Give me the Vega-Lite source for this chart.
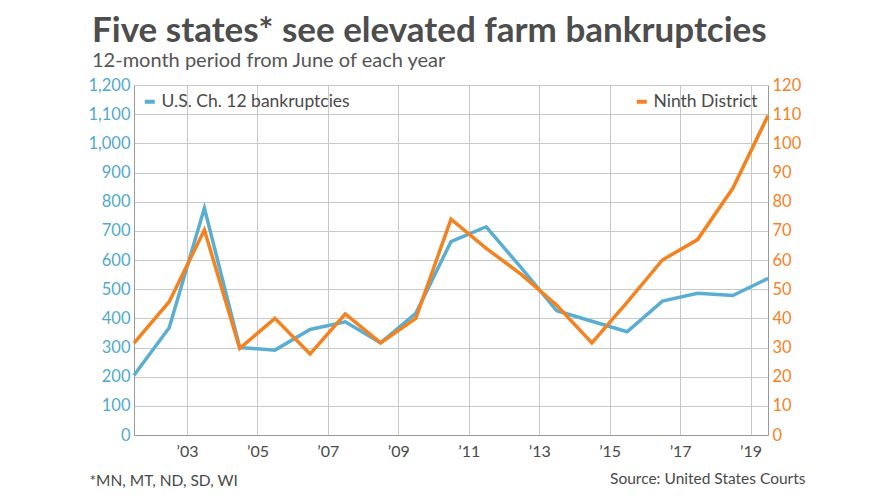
{
  "$schema": "https://vega.github.io/schema/vega-lite/v6.json",
  "width": 634,
  "height": 350,
  "autosize": {"type": "none"},
  "padding": {"left": 134, "top": 85, "right": 122, "bottom": 66},
  "background": "white",
  "config": {"font": "Lato", "view": {"stroke": null}},
  "title": {
    "text": "Five states* see elevated farm bankruptcies",
    "subtitle": "12-month period from June of each year",
    "anchor": "start",
    "frame": "group",
    "dx": -42,
    "offset": 6,
    "font": "Lato",
    "fontSize": 35,
    "fontWeight": "bold",
    "color": "#4d4d4d",
    "subtitleFont": "Lato",
    "subtitleFontSize": 20,
    "subtitleColor": "#555555",
    "subtitlePadding": 2
  },
  "data": {
    "values": [
      {"period": "2001-07-01", "us_ch12": 205, "ninth": 31.5},
      {"period": "2002-07-01", "us_ch12": 368, "ninth": 45.7},
      {"period": "2003-07-01", "us_ch12": 778, "ninth": 70.3},
      {"period": "2004-07-01", "us_ch12": 300, "ninth": 29.7},
      {"period": "2005-07-01", "us_ch12": 291, "ninth": 40},
      {"period": "2006-07-01", "us_ch12": 362, "ninth": 27.8},
      {"period": "2007-07-01", "us_ch12": 388, "ninth": 41.5},
      {"period": "2008-07-01", "us_ch12": 316, "ninth": 31.6},
      {"period": "2009-07-01", "us_ch12": 417, "ninth": 40},
      {"period": "2010-07-01", "us_ch12": 663, "ninth": 74},
      {"period": "2011-07-01", "us_ch12": 714, "ninth": 64},
      {"period": "2012-07-01", "us_ch12": 572, "ninth": 55},
      {"period": "2013-07-01", "us_ch12": 426, "ninth": 44.5},
      {"period": "2014-07-01", "us_ch12": 390, "ninth": 31.6},
      {"period": "2015-07-01", "us_ch12": 354, "ninth": 45.5},
      {"period": "2016-07-01", "us_ch12": 459, "ninth": 60},
      {"period": "2017-07-01", "us_ch12": 486, "ninth": 67},
      {"period": "2018-07-01", "us_ch12": 478, "ninth": 84.6},
      {"period": "2019-07-01", "us_ch12": 537, "ninth": 109.5}
    ]
  },
  "encoding": {
    "x": {
      "field": "period",
      "type": "temporal",
      "scale": {"domain": ["2001-07-01", "2019-07-01"]},
      "axis": {
        "values": [{"year": 2003}, {"year": 2005}, {"year": 2007}, {"year": 2009}, {"year": 2011}, {"year": 2013}, {"year": 2015}, {"year": 2017}, {"year": 2019}],
        "format": "’%y",
        "labelFont": "Lato",
        "labelFontSize": 16,
        "labelColor": "#4a4a4a",
        "labelPadding": 8,
        "ticks": false,
        "domain": true,
        "domainColor": "#9a9a9a",
        "grid": true,
        "gridColor": "#c8c8c8",
        "title": "*MN, MT, ND, SD, WI",
        "titleFont": "Lato",
        "titleFontSize": 15.5,
        "titleFontWeight": "normal",
        "titleColor": "#4a4a4a",
        "titleAlign": "left",
        "titleAnchor": "start",
        "titleBaseline": "alphabetic",
        "titleX": -45,
        "titleY": 50
      }
    }
  },
  "layer": [
    {
      "mark": {"type": "line", "strokeWidth": 3.5, "strokeJoin": "miter"},
      "encoding": {
        "y": {
          "field": "us_ch12",
          "type": "quantitative",
          "scale": {"domain": [0, 1200]},
          "axis": {
            "values": [0, 100, 200, 300, 400, 500, 600, 700, 800, 900, 1000, 1100, 1200],
            "format": ",.0f",
            "labelFont": "Lato",
            "labelFontSize": 16.5,
            "labelColor": "#4fa9d0",
            "labelPadding": 4,
            "ticks": false,
            "domainColor": "#9a9a9a",
            "grid": true,
            "gridColor": "#c8c8c8",
            "title": null
          }
        },
        "color": {
          "datum": "U.S. Ch. 12 bankruptcies",
          "type": "nominal",
          "scale": {"range": ["#5aaed2"]},
          "legend": {
            "orient": "none",
            "legendX": 7,
            "legendY": 8,
            "title": null,
            "padding": 0,
            "symbolType": "stroke",
            "symbolStrokeWidth": 4,
            "symbolSize": 100,
            "labelOffset": 3,
            "labelLimit": 400,
            "labelFont": "Lato",
            "labelFontSize": 17.5,
            "labelColor": "#4a4a4a"
          }
        }
      }
    },
    {
      "mark": {"type": "line", "strokeWidth": 3.5, "strokeJoin": "miter"},
      "encoding": {
        "y": {
          "field": "ninth",
          "type": "quantitative",
          "scale": {"domain": [0, 120]},
          "axis": {
            "orient": "right",
            "values": [0, 10, 20, 30, 40, 50, 60, 70, 80, 90, 100, 110, 120],
            "labelFont": "Lato",
            "labelFontSize": 16.5,
            "labelColor": "#f5821f",
            "labelPadding": 4,
            "ticks": false,
            "domainColor": "#9a9a9a",
            "grid": false,
            "title": "Source: United States Courts",
            "titleFont": "Lato",
            "titleFontSize": 15.5,
            "titleFontWeight": "normal",
            "titleColor": "#4a4a4a",
            "titleAngle": 0,
            "titleAlign": "right",
            "titleBaseline": "alphabetic",
            "titleX": 37,
            "titleY": 398
          }
        },
        "color": {
          "datum": "Ninth District",
          "type": "nominal",
          "scale": {"range": ["#f5821f"]},
          "legend": {
            "orient": "none",
            "legendX": 499,
            "legendY": 8,
            "title": null,
            "padding": 0,
            "symbolType": "stroke",
            "symbolStrokeWidth": 4,
            "symbolSize": 100,
            "labelOffset": 3,
            "labelLimit": 400,
            "labelFont": "Lato",
            "labelFontSize": 17.5,
            "labelColor": "#4a4a4a"
          }
        }
      }
    }
  ],
  "resolve": {
    "scale": {"y": "independent", "color": "independent"},
    "legend": {"color": "independent"}
  }
}
